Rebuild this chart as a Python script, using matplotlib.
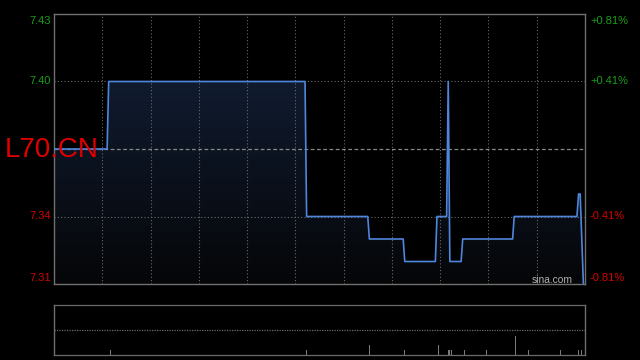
import matplotlib
matplotlib.use("Agg")
import matplotlib.pyplot as plt
import numpy as np
from matplotlib.colors import LinearSegmentedColormap

# ---- data (minutes since open, price) ----
minutes = [0, 33, 34, 156, 157, 195, 196, 217, 218, 237, 238, 244, 245, 246,
           253, 254, 285, 286, 325, 326, 327, 329]
prices = [7.37, 7.37, 7.40, 7.40, 7.34, 7.34, 7.33, 7.33, 7.32, 7.32, 7.34, 7.34,
          7.40, 7.32, 7.32, 7.33, 7.33, 7.34, 7.34, 7.35, 7.35, 7.31]
prev_close = 7.37
price_ticks = [7.43, 7.40, 7.34, 7.31]
price_labels = ["7.43", "7.40", "7.34", "7.31"]
pct_labels = ["+0.81%", "+0.41%", "-0.41%", "-0.81%"]
vol_minutes = [35, 157, 196, 218, 239, 245, 246, 247, 255, 269, 287, 295, 315, 326, 328]
volumes = [1, 1, 2, 1, 2, 1, 1, 1, 1, 1, 4, 1, 1, 1, 1]
ticker = "L70.CN"

W, H = 640, 360
fig = plt.figure(figsize=(6.4, 3.6), dpi=100, facecolor="black")

def rect(x0, y0, x1, y1):
    return [x0 / W, 1 - y1 / H, (x1 - x0) / W, (y1 - y0) / H]

FONT = ["Liberation Sans", "DejaVu Sans"]
GREEN = "#1a9e1a"
RED = "#d40000"
GRID = "#6a6a6a"

ax = fig.add_axes(rect(54, 14, 585, 284))
ax.set_facecolor("black")
ax.set_xlim(0, 330)
ax.set_ylim(7.31, 7.43)

# gradient fill under line
fill = ax.fill_between(minutes, prices, 7.31, color="none", lw=0)
cmap = LinearSegmentedColormap.from_list("g", ["#050608", "#14223c"])
grad = np.linspace(0, 1, 256).reshape(-1, 1)
im = ax.imshow(grad, aspect="auto", cmap=cmap, origin="lower",
               extent=[0, 330, 7.31, 7.43], zorder=1)
im.set_clip_path(fill.get_paths()[0], transform=ax.transData)

# grid
for m in range(30, 330, 30):
    ax.axvline(m, color=GRID, lw=0.8, ls=(0, (1, 2)), zorder=2)
for p in [7.40, 7.34]:
    ax.axhline(p, color=GRID, lw=0.8, ls=(0, (1, 2)), zorder=2)
ax.axhline(prev_close, color="#888888", lw=0.9, ls=(0, (3, 2)), zorder=2)

ax.plot(minutes, prices, color="#4f86dd", lw=1.2, zorder=3)

ax.set_xticks([])
ax.set_yticks([])
for s in ax.spines.values():
    s.set_color("#707070")
    s.set_linewidth(1)

# axis labels
for p, lab, pl in zip(price_ticks, price_labels, pct_labels):
    col = GREEN if p > prev_close else RED
    if p == 7.43:
        va, off = "top", -2
    elif p == 7.31:
        va, off = "bottom", 1.5
    else:
        va, off = "center", 0
    y = 1 - ((284 - (p - 7.31) / 0.12 * 270) - off) / H
    if p == 7.43:
        y = 1 - 15.5 / H
    if p == 7.31:
        y = 1 - 283 / H
    fig.text(51 / W, y, lab, color=col, fontsize=8, ha="right", va=va, family=FONT)
    fig.text(590 / W, y, pl, color=col, fontsize=8, ha="left", va=va, family=FONT)

fig.text(5 / W, 1 - 149.5 / H, ticker, color="#e00000", fontsize=20,
         ha="left", va="center", family=FONT)
fig.text(573 / W, 1 - 283 / H, "sina.com", color="#b0b0b0", fontsize=7.4,
         ha="right", va="baseline", family=FONT)

# volume panel
vx = fig.add_axes(rect(54, 304.7, 585, 354.7))
vx.set_facecolor("black")
vx.set_xlim(0, 330)
vx.set_ylim(0, 10.6)
vx.bar(vol_minutes, volumes, width=0.6, color="#7a7a7a", zorder=3)
vx.axhline(5.3, color=GRID, lw=0.9, ls=(0, (1, 1)), zorder=2)
vx.set_xticks([])
vx.set_yticks([])
for k in ["top", "bottom"]:
    vx.spines[k].set_color(GRID)
    vx.spines[k].set_linestyle((0, (1, 1)))
    vx.spines[k].set_linewidth(0.9)
for k in ["left", "right"]:
    vx.spines[k].set_color("#707070")
    vx.spines[k].set_linewidth(1)

fig.savefig("out.png", dpi=100, facecolor="black")
